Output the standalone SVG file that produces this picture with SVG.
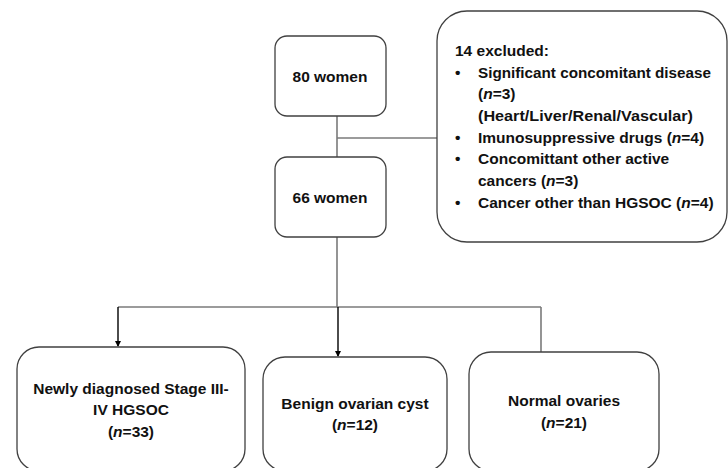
<svg xmlns="http://www.w3.org/2000/svg" width="728" height="468" viewBox="0 0 728 468">
<style>
.box{fill:#fff;stroke:#404040;stroke-width:1.3}
.t{font-family:"Liberation Sans",Arial,sans-serif;font-weight:bold;font-size:15.5px;fill:#111}
.c{text-anchor:middle}
.ln{stroke:#7a7a7a;stroke-width:1.6;fill:none}
.ar{stroke:#000;stroke-width:1.4;fill:none}
</style>
<defs>
<marker id="ah" markerWidth="6" markerHeight="6" refX="5" refY="3" orient="auto" markerUnits="userSpaceOnUse">
<path d="M0,0 L6,3 L0,6 Z" fill="#000"/>
</marker>
</defs>
<rect width="728" height="468" fill="#fff"/>
<g id="connectors">
<line class="ln" x1="337" y1="116" x2="337" y2="157"/>
<line class="ln" x1="337" y1="138" x2="437" y2="138"/>
<line class="ln" x1="337" y1="237" x2="337" y2="307"/>
<line class="ln" x1="118" y1="307" x2="541" y2="307"/>
<line class="ar" x1="118" y1="307" x2="118" y2="346" marker-end="url(#ah)"/>
<line class="ar" x1="338" y1="307" x2="338" y2="356" marker-end="url(#ah)"/>
<line class="ln" x1="541" y1="307" x2="541" y2="352"/>
</g>
<g id="n80">
<rect class="box" x="275" y="36" width="111" height="80" rx="12"/>
<text class="t c" x="330" y="82">80 women</text>
</g>
<g id="n66">
<rect class="box" x="275" y="157" width="111" height="80" rx="12"/>
<text class="t c" x="330" y="203">66 women</text>
</g>
<g id="excluded">
<rect class="box" x="437" y="11" width="290" height="231" rx="30"/>
<text class="t" x="455" y="56">14 excluded:</text>
<text class="t" x="455" y="78">•</text>
<text class="t" x="478" y="78" textLength="233" lengthAdjust="spacingAndGlyphs">Significant concomitant disease</text>
<text class="t" x="478" y="99">(<tspan font-style="italic">n</tspan>=3)</text>
<text class="t" x="478" y="121" textLength="215" lengthAdjust="spacingAndGlyphs">(Heart/Liver/Renal/Vascular)</text>
<text class="t" x="455" y="143">•</text>
<text class="t" x="478" y="143">Imunosuppressive drugs (<tspan font-style="italic">n</tspan>=4)</text>
<text class="t" x="455" y="164">•</text>
<text class="t" x="478" y="164">Concomittant other active</text>
<text class="t" x="478" y="186">cancers (<tspan font-style="italic">n</tspan>=3)</text>
<text class="t" x="455" y="208">•</text>
<text class="t" x="478" y="208">Cancer other than HGSOC (<tspan font-style="italic">n</tspan>=4)</text>
</g>
<g id="hgsoc">
<rect class="box" x="17" y="347" width="228" height="124" rx="22"/>
<text class="t c" x="131" y="394">Newly diagnosed Stage III-</text>
<text class="t c" x="131" y="415">IV HGSOC</text>
<text class="t c" x="131" y="437">(<tspan font-style="italic">n</tspan>=33)</text>
</g>
<g id="benign">
<rect class="box" x="263" y="357" width="184" height="114" rx="22"/>
<text class="t c" x="355" y="409">Benign ovarian cyst</text>
<text class="t c" x="355" y="430">(<tspan font-style="italic">n</tspan>=12)</text>
</g>
<g id="normal">
<rect class="box" x="469" y="352" width="190" height="119" rx="22"/>
<text class="t c" x="564" y="406">Normal ovaries</text>
<text class="t c" x="564" y="428">(<tspan font-style="italic">n</tspan>=21)</text>
</g>
</svg>
